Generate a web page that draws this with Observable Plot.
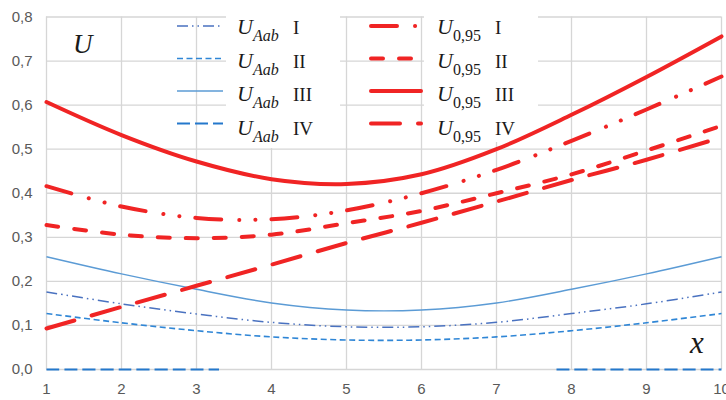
<!DOCTYPE html>
<html><head><meta charset="utf-8">
<script src="https://cdn.jsdelivr.net/npm/d3@7"></script>
<script src="https://cdn.jsdelivr.net/npm/@observablehq/plot@0.6"></script>
<style>
body{margin:0;background:#fff;}
#chart{position:relative;width:726px;height:400px;overflow:hidden;background:#fff;}
</style>
</head><body><div id="chart"></div>
<script>
// ---- data ----
const xValues = [1, 2, 3, 4, 5, 6, 7, 8, 9, 10];
const uAab_I   = [0.176, 0.149, 0.126, 0.107, 0.097, 0.097, 0.107, 0.127, 0.149, 0.176];
const uAab_II  = [0.127, 0.106, 0.088, 0.074, 0.067, 0.067, 0.074, 0.088, 0.106, 0.127];
const uAab_III = [0.256, 0.217, 0.182, 0.151, 0.135, 0.135, 0.151, 0.182, 0.217, 0.256];
const uAab_IV_x = [1, 2, 3, 3.3, 5.5, 7.8, 8, 9, 10];
const uAab_IV   = [0, 0, 0, 0, null, 0, 0, 0, 0];
const u095_I   = [0.416, 0.370, 0.344, 0.341, 0.361, 0.400, 0.453, 0.519, 0.590, 0.665];
const u095_II  = [0.328, 0.306, 0.298, 0.306, 0.332, 0.360, 0.400, 0.443, 0.497, 0.553];
const u095_III = [0.607, 0.532, 0.472, 0.432, 0.421, 0.443, 0.500, 0.578, 0.664, 0.756];
const u095_IV  = [0.093, 0.142, 0.190, 0.238, 0.287, 0.333, 0.381, 0.430, 0.476, 0.527];
const yTicks = [0, 0.1, 0.2, 0.3, 0.4, 0.5, 0.6, 0.7, 0.8];
const xTicks = [1, 2, 3, 4, 5, 6, 7, 8, 9, 10];
const legendNumerals = ["I", "II", "III", "IV"];
const blueLegendName = "Aab";
const redLegendName = "0,95";

// ---- styling (not data) ----
const blueStyles = [
  {stroke: "#4a72c0", width: 1.5, dash: "11 4 1.5 4 1.5 4", cap: "butt"},
  {stroke: "#2f86d6", width: 1.6, dash: "6 3.5", cap: "butt"},
  {stroke: "#5b9bd5", width: 1.4, dash: null, cap: "butt"},
  {stroke: "#2478cc", width: 1.8, dash: "13 5", cap: "butt"}
];
const redStyles = [
  {stroke: "#f02424", width: 4, dash: "26 18 0.1 16 0.1 16", cap: "round"},
  {stroke: "#f02424", width: 4, dash: "12 16", cap: "round"},
  {stroke: "#f02424", width: 4, dash: null, cap: "round"},
  {stroke: "#f02424", width: 4, dash: "29 18", cap: "round"}
];

const toRows = (xs, ys) => xs.map((x, i) => ({x, y: ys[i]}));
const blueData = [toRows(xValues, uAab_I), toRows(xValues, uAab_II), toRows(xValues, uAab_III), toRows(uAab_IV_x, uAab_IV)];
const redData = [toRows(xValues, u095_I), toRows(xValues, u095_II), toRows(xValues, u095_III), toRows(xValues, u095_IV)];

const lineMark = (data, s) => Plot.line(data, {
  x: "x", y: "y", curve: "catmull-rom",
  stroke: s.stroke, strokeWidth: s.width,
  strokeDasharray: s.dash || undefined, strokeLinecap: s.cap, strokeLinejoin: "round"
});

const gridColor = "#d6d6d6";
const chart = Plot.plot({
  width: 726, height: 400,
  marginLeft: 46, marginRight: 5, marginTop: 16.5, marginBottom: 31,
  style: {fontFamily: "'Liberation Sans', Arial, sans-serif", fontSize: "15px", color: "#595959", background: "#fff"},
  x: {domain: [1, 10]},
  y: {domain: [0, 0.8]},
  marks: [
    Plot.gridY(yTicks, {stroke: gridColor, strokeOpacity: 1, strokeWidth: 1.3}),
    Plot.gridX(xTicks, {stroke: gridColor, strokeOpacity: 1, strokeWidth: 1.3}),
    Plot.axisY(yTicks, {tickSize: 0, tickPadding: 14, label: null, tickFormat: d => d.toFixed(1).replace(".", ","), fill: "#595959"}),
    Plot.axisX(xTicks, {tickSize: 0, tickPadding: 14, label: null, tickFormat: d => String(d), fill: "#595959"}),
    ...blueData.map((d, i) => lineMark(d, blueStyles[i])),
    ...redData.map((d, i) => lineMark(d, redStyles[i]))
  ]
});
document.getElementById("chart").appendChild(chart);

// ---- legend & axis-name decorations ----
const svg = d3.select(chart);
// white boxes behind legend texts (above grid, below data lines)
[[226, 14, 114, 134], [424, 14, 114, 128]].forEach(([x, y, w, h]) => {
  svg.insert("rect", "g[aria-label='line']").attr("x", x).attr("y", y).attr("width", w).attr("height", h).attr("fill", "#fff");
});
const g = svg.append("g").attr("text-anchor", "start");
const serif = "'Liberation Serif', 'DejaVu Serif', serif";
const rowBase = i => 34 + i * 33.5;
const sampleY = i => 26 + i * 32.5;
function entry(i, sx0, sx1, style, tx, name, subItalic, numX) {
  g.append("line").attr("x1", sx0).attr("x2", sx1).attr("y1", sampleY(i)).attr("y2", sampleY(i))
    .attr("stroke", style.stroke).attr("stroke-width", style.width)
    .attr("stroke-dasharray", style.dash).attr("stroke-linecap", style.cap);
  const t = g.append("text").attr("x", tx).attr("y", rowBase(i))
    .attr("font-family", serif).attr("font-size", 22)
    .attr("font-style", "italic").attr("fill", "#1a1a1a");
  t.append("tspan").text("U");
  t.append("tspan").attr("dy", 7).attr("font-size", 16).attr("font-style", subItalic ? "italic" : "normal").text(name);
  g.append("text").attr("x", numX).attr("y", rowBase(i))
    .attr("font-family", serif).attr("font-size", 19)
    .attr("fill", "#1a1a1a").text(legendNumerals[i]);
}
legendNumerals.forEach((_, i) => {
  entry(i, 177, 223, blueStyles[i], 237, blueLegendName, true, 293);
  entry(i, 371, 421, redStyles[i], 437, redLegendName, false, 495);
});
g.append("text").attr("x", 73).attr("y", 53)
  .attr("font-family", serif).attr("font-size", 27)
  .attr("font-style", "italic").attr("fill", "#1a1a1a").text("U");
g.append("text").attr("x", 690).attr("y", 353)
  .attr("font-family", serif).attr("font-size", 31)
  .attr("font-style", "italic").attr("fill", "#1a1a1a").text("x");
</script>
</body></html>
